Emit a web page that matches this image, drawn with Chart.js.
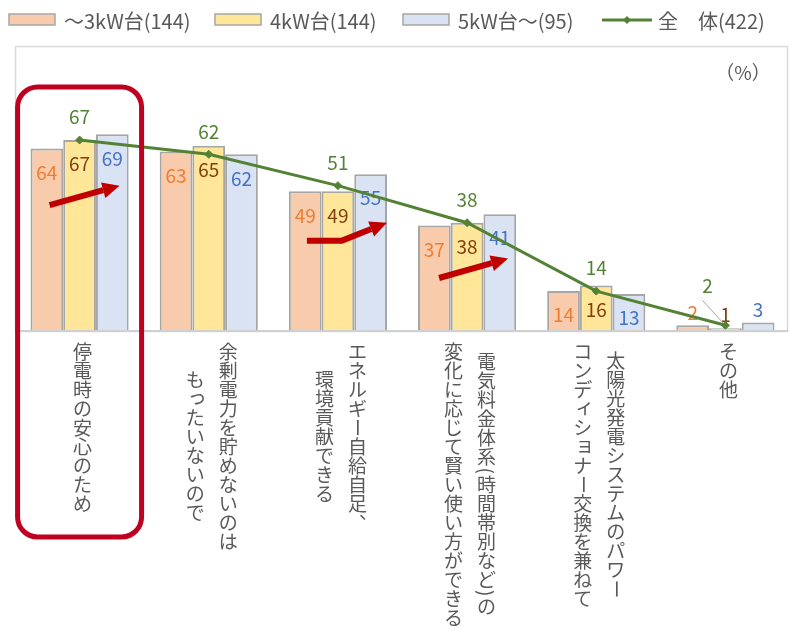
<!DOCTYPE html>
<html><head><meta charset="utf-8">
<script src="https://cdn.jsdelivr.net/npm/chart.js@4.4.1/dist/chart.umd.min.js"></script>
<style>html,body{margin:0;padding:0;background:#fff}#wrap{width:790px;height:628px;position:relative}</style>
</head><body><div id="wrap"><canvas id="c" width="790" height="628"></canvas></div>
<script>
// ---- data ----
const categoryLines = [
  ['停電時の安心のため'],
  ['余剰電力を貯めないのは', 'もったいないので'],
  ['エネルギー自給自足、', '環境貢献できる'],
  ['電気料金体系(時間帯別など)の', '変化に応じて賢い使い方ができる'],
  ['太陽光発電システムのパワー', 'コンディショナー交換を兼ねて'],
  ['その他']
];
const seriesNames = ['～3kW台(144)', '4kW台(144)', '5kW台～(95)', '全　体(422)'];
const s3kW = [64, 63, 49, 37, 14, 2];
const s4kW = [67, 65, 49, 38, 16, 1];
const s5kW = [69, 62, 55, 41, 13, 3];
const totalAll = [67, 62, 51, 38, 14, 2];
const unitLabel = '（%）';
const highlightCategory = 0;
const arrowCategories = [0, 2, 3];

// ---- styles ----
const FONT = '"Noto Sans CJK JP", "Noto Sans", sans-serif';
const barFills = ['#F8CBAD', '#FFE699', '#DAE3F3'];
const barLabelColors = ['#ED7D31', '#843C0C', '#4472C4'];
const lineColor = '#548235';
const textGrey = '#595959';
const labels = categoryLines.map(l => l.join(''));

const barData = [s3kW, s4kW, s5kW];
const datasets = barData.map((d, i) => ({
  type: 'bar', label: seriesNames[i], data: d,
  backgroundColor: barFills[i], borderColor: '#A6A6A6', borderWidth: 2,
  borderSkipped: 'start', categoryPercentage: 0.76, barPercentage: 1, order: 1
}));
datasets.push({
  type: 'line', label: seriesNames[3], data: totalAll,
  borderColor: lineColor, backgroundColor: lineColor, borderWidth: 3,
  pointStyle: 'rectRot', pointRadius: 4, pointBorderWidth: 1, tension: 0, order: 0
});

const PITCH = 19;
const SMALL = 'ァィゥェォッャュョっゃゅょぁぃぅぇぉ';
function charAdv(ctx, ch) {
  if ('()'.includes(ch)) return ctx.measureText(ch).width + 2;
  return PITCH;
}
function drawVertical(ctx, lines, cx, top) {
  ctx.save();
  ctx.font = '19px ' + FONT;
  ctx.fillStyle = textGrey;
  ctx.textAlign = 'center';
  ctx.textBaseline = 'middle';
  const colGap = 33;
  const lens = lines.map(l => [...l].reduce((a, ch) => a + charAdv(ctx, ch), 0));
  const maxLen = Math.max(...lens);
  lines.forEach((line, i) => {
    const x = cx + (lines.length - 1) / 2 * colGap - i * colGap;
    let y = top + (maxLen - lens[i]) / 2;
    for (const ch of line) {
      const adv = charAdv(ctx, ch);
      const cy = y + adv / 2;
      if ('ー()（）'.includes(ch)) {
        ctx.save(); ctx.translate(x, cy); ctx.rotate(Math.PI / 2);
        ctx.fillText(ch, 0, 0); ctx.restore();
      } else if ('、。'.includes(ch)) {
        ctx.fillText(ch, x + 11, cy - 11);
      } else if (SMALL.includes(ch)) {
        ctx.fillText(ch, x + 2, cy - 2);
      } else {
        ctx.fillText(ch, x, cy);
      }
      y += adv;
    }
  });
  ctx.restore();
}

function arrow(ctx, pts, color) {
  const n = pts.length;
  const [tx, ty] = pts[n - 1], [px, py] = pts[n - 2];
  const ang = Math.atan2(ty - py, tx - px);
  const hl = 17, hw = 8;
  const bx = tx - hl * Math.cos(ang), by = ty - hl * Math.sin(ang);
  ctx.save();
  ctx.strokeStyle = color; ctx.fillStyle = color; ctx.lineWidth = 6; ctx.lineJoin = 'miter';
  ctx.beginPath(); ctx.moveTo(pts[0][0], pts[0][1]);
  for (let i = 1; i < n - 1; i++) ctx.lineTo(pts[i][0], pts[i][1]);
  ctx.lineTo(bx, by); ctx.stroke();
  ctx.beginPath();
  ctx.moveTo(tx, ty);
  ctx.lineTo(bx + hw * Math.sin(ang), by - hw * Math.cos(ang));
  ctx.lineTo(bx - hw * Math.sin(ang), by + hw * Math.cos(ang));
  ctx.closePath(); ctx.fill();
  ctx.restore();
}

const deco = {
  id: 'deco',
  beforeDatasetsDraw(chart) {
    const { ctx, chartArea: a } = chart;
    ctx.save();
    ctx.strokeStyle = '#D9D9D9'; ctx.lineWidth = 1.5;
    ctx.strokeRect(a.left + 0.5, a.top + 0.5, 788 - a.left - 1, a.bottom - a.top);
    ctx.restore();
  },
  afterDatasetDraw(chart, args) {
    const ds = chart.data.datasets[args.index];
    if (ds.type !== 'bar') return;
    const { ctx } = chart;
    const meta = args.meta;
    ctx.save();
    ctx.font = '19px ' + FONT;
    ctx.fillStyle = barLabelColors[args.index];
    ctx.textAlign = 'center'; ctx.textBaseline = 'middle';
    meta.data.forEach((el, i) => {
      const v = ds.data[i];
      const y = v >= 8 ? el.y + 24 : el.y - 13;
      ctx.fillText(String(v), el.x, y);
    });
    ctx.restore();
  },
  afterDatasetsDraw(chart) {
    const { ctx, chartArea: a, scales } = chart;
    // axis line
    ctx.save();
    ctx.strokeStyle = '#D0D0D0'; ctx.lineWidth = 2;
    ctx.beginPath(); ctx.moveTo(a.left, a.bottom); ctx.lineTo(788, a.bottom); ctx.stroke();
    ctx.restore();
    // line labels
    const lineIdx = chart.data.datasets.findIndex(d => d.type === 'line');
    const meta = chart.getDatasetMeta(lineIdx);
    ctx.save();
    ctx.font = '19px ' + FONT; ctx.fillStyle = lineColor;
    ctx.textAlign = 'center'; ctx.textBaseline = 'middle';
    meta.data.forEach((el, i) => {
      const v = totalAll[i];
      if (v >= 8) {
        ctx.fillText(String(v), el.x, el.y - 23);
      } else {
        const lx = el.x - 18, ly = el.y - 40;
        ctx.fillText(String(v), lx, ly);
        ctx.save(); ctx.strokeStyle = '#A6A6A6'; ctx.lineWidth = 1;
        ctx.beginPath(); ctx.moveTo(lx - 5, ly + 15); ctx.lineTo(el.x - 2, el.y - 2); ctx.stroke();
        ctx.restore();
      }
    });
    ctx.restore();
    // unit
    ctx.save();
    ctx.font = '19px ' + FONT; ctx.fillStyle = textGrey;
    ctx.textAlign = 'center'; ctx.textBaseline = 'middle';
    ctx.fillText(unitLabel, 743, a.top + 27);
    ctx.restore();
    // category labels (vertical)
    const xs = scales.x;
    categoryLines.forEach((lines, i) => {
      drawVertical(ctx, lines, xs.getPixelForValue(i) + 3, a.bottom + 11);
    });
  },
  afterDraw(chart) {
    const { ctx, scales } = chart;
    const xs = scales.x, ys = scales.y;
    // legend
    ctx.save();
    ctx.font = '20px ' + FONT; ctx.textBaseline = 'middle'; ctx.textAlign = 'left';
    const legX = [9, 215, 403, 602];
    const ly = 20;
    seriesNames.forEach((name, i) => {
      const x = legX[i];
      if (i < 3) {
        ctx.fillStyle = barFills[i]; ctx.fillRect(x, ly - 6, 46, 11);
        ctx.strokeStyle = '#A6A6A6'; ctx.lineWidth = 1.5; ctx.strokeRect(x, ly - 6, 46, 11);
      } else {
        ctx.strokeStyle = lineColor; ctx.lineWidth = 3;
        ctx.beginPath(); ctx.moveTo(x, ly); ctx.lineTo(x + 50, ly); ctx.stroke();
        ctx.fillStyle = lineColor; ctx.beginPath();
        ctx.moveTo(x + 25, ly - 4); ctx.lineTo(x + 29, ly); ctx.lineTo(x + 25, ly + 4); ctx.lineTo(x + 21, ly); ctx.closePath(); ctx.fill();
      }
      ctx.fillStyle = textGrey;
      ctx.fillText(name, x + (i < 3 ? 55 : 56), ly + 1);
    });
    ctx.restore();
    // highlight box
    const hc = xs.getPixelForValue(highlightCategory);
    ctx.save();
    ctx.strokeStyle = '#C00020'; ctx.lineWidth = 5;
    ctx.beginPath(); ctx.roundRect(hc - 62, 87, 124, 450, 20); ctx.stroke();
    ctx.restore();
    // arrows
    const c = arrowCategories.map(i => xs.getPixelForValue(i));
    const Y = v => ys.getPixelForValue(v);
    arrow(ctx, [[c[0] - 30, Y(44.2)], [c[0] + 40, Y(51)]], '#C00000');
    arrow(ctx, [[c[1] - 31, Y(31.7)], [c[1] + 4, Y(31.7)], [c[1] + 49, Y(38)]], '#C00000');
    arrow(ctx, [[c[2] - 28, Y(18.6)], [c[2] + 41, Y(25.4)]], '#C00000');
  }
};

new Chart(document.getElementById('c'), {
  data: { labels, datasets },
  options: {
    responsive: false, animation: false,
    layout: { autoPadding: false, padding: { left: 15, right: 0, top: 46, bottom: 0 } },
    plugins: { legend: { display: false }, tooltip: { enabled: false } },
    scales: {
      x: { grid: { display: false }, border: { display: false }, ticks: { display: false },
           afterFit(s) { s.height = 297; } },
      y: { display: false, min: 0, max: 100 }
    }
  },
  plugins: [deco]
});
</script></body></html>
